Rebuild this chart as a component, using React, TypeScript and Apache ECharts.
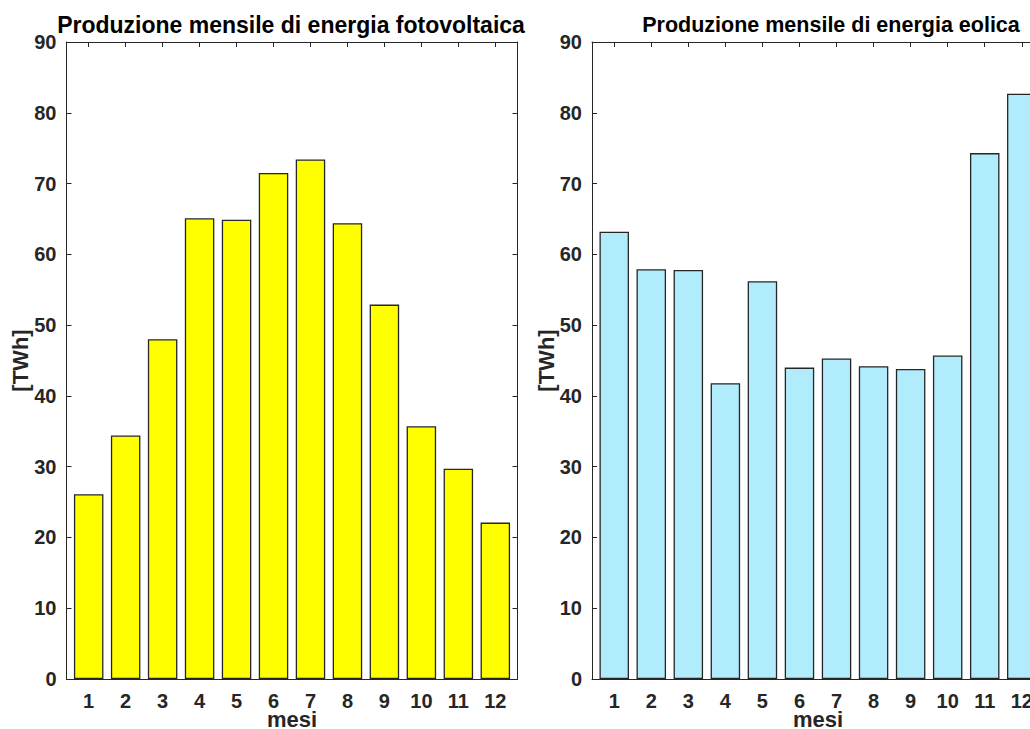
import React, { useEffect, useRef } from "react";
import * as echarts from "echarts";

const months = [1, 2, 3, 4, 5, 6, 7, 8, 9, 10, 11, 12];
const solar = [26.1, 34.4, 48.0, 65.1, 64.9, 71.5, 73.4, 64.4, 52.9, 35.7, 29.7, 22.1];
const wind = [63.2, 57.9, 57.8, 41.8, 56.2, 44.0, 45.3, 44.2, 43.8, 45.7, 74.3, 82.7];
const titles = ["Produzione mensile di energia fotovoltaica", "Produzione mensile di energia eolica"];
const xName = "mesi";
const yName = "[TWh]";
const yMin = 0;
const yMax = 90;
const yStep = 10;

const AX = "#262626";
const FONT = "Liberation Sans, Arial, Helvetica, sans-serif";

export default function App() {
  const ref = useRef<HTMLDivElement>(null);
  useEffect(() => {
    if (!ref.current) return;
    const chart = echarts.init(ref.current, undefined, { renderer: "svg" });
    const grids = [
      { left: 66.5, top: 42, width: 451, height: 637, outerBoundsMode: "none", containLabel: false },
      { left: 592, top: 42, width: 452, height: 637, outerBoundsMode: "none", containLabel: false },
    ];
    const xAxes: any[] = [];
    const yAxes: any[] = [];
    grids.forEach((_, g) => {
      const common = {
        type: "value",
        gridIndex: g,
        min: 0.4,
        max: 12.6,
        axisLine: { show: true, onZero: false, lineStyle: { color: AX, width: 1 } },
        axisTick: { show: true, inside: true, length: 5, customValues: months, lineStyle: { color: AX } },
        splitLine: { show: false },
      };
      xAxes.push({
        ...common,
        position: "bottom",
        axisLabel: {
          show: true,
          customValues: months,
          color: AX,
          fontSize: 20,
          fontWeight: "bold",
          fontFamily: FONT,
          margin: 12,
        },
        name: xName,
        nameLocation: "middle",
        nameGap: 29,
        nameMoveOverlap: false,
        nameTextStyle: { color: AX, fontSize: 22, fontWeight: "bold", fontFamily: FONT },
      });
      xAxes.push({ ...common, position: "top", axisLabel: { show: false } });
      const ycommon = {
        type: "value",
        gridIndex: g,
        min: yMin,
        max: yMax,
        interval: yStep,
        axisLine: { show: true, onZero: false, lineStyle: { color: AX, width: 1 } },
        axisTick: { show: true, inside: true, length: 5, lineStyle: { color: AX } },
        splitLine: { show: false },
      };
      yAxes.push({
        ...ycommon,
        position: "left",
        axisLabel: { color: AX, fontSize: 20, fontWeight: "bold", fontFamily: FONT, margin: 10 },
        name: yName,
        nameLocation: "middle",
        nameRotate: 90,
        nameGap: 35,
        nameMoveOverlap: false,
        nameTextStyle: { color: AX, fontSize: 22, fontWeight: "bold", fontFamily: FONT },
      });
      yAxes.push({ ...ycommon, position: "right", axisLabel: { show: false } });
    });

    const option: any = {
      animation: false,
      backgroundColor: "#ffffff",
      grid: grids,
      xAxis: xAxes,
      yAxis: yAxes,
      graphic: [
        {
          type: "text",
          x: 291,
          y: 25,
          style: {
            text: titles[0],
            font: `bold 23px ${FONT}`,
            fill: "#000",
            textAlign: "center",
            textVerticalAlign: "middle",
          },
        },
        {
          type: "text",
          x: 831,
          y: 25,
          style: {
            text: titles[1],
            font: `bold 21.5px ${FONT}`,
            fill: "#000",
            textAlign: "center",
            textVerticalAlign: "middle",
          },
        },
      ],
      series: [
        {
          type: "bar",
          xAxisIndex: 0,
          yAxisIndex: 0,
          barWidth: 29.5,
          data: months.map((m, i) => [m, solar[i]]),
          itemStyle: { color: "#FFFF00", borderColor: AX, borderWidth: 1.3 },
        },
        {
          type: "bar",
          xAxisIndex: 2,
          yAxisIndex: 2,
          barWidth: 29.5,
          data: months.map((m, i) => [m, wind[i]]),
          itemStyle: { color: "#B0ECFC", borderColor: AX, borderWidth: 1.3 },
        },
      ],
    };
    chart.setOption(option);
    return () => chart.dispose();
  }, []);
  return (
    <div style={{ position: "fixed", left: 0, top: 0, width: 1030, height: 729, overflow: "hidden", background: "#fff" }}>
      <div ref={ref} style={{ width: 1030, height: 729 }} />
    </div>
  );
}
